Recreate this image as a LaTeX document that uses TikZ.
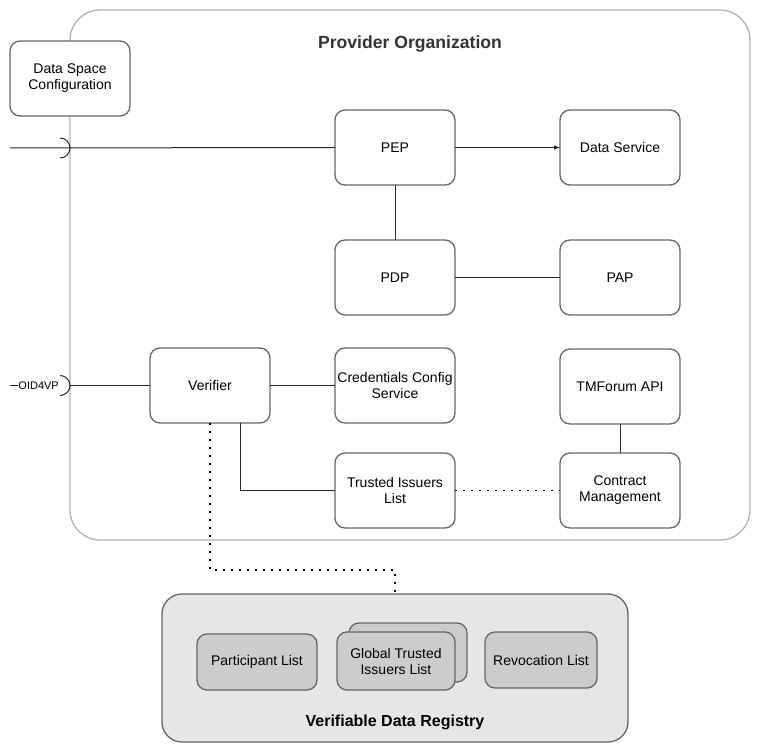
\documentclass[tikz,border=0pt]{standalone}
\usepackage{fontspec}
\setmainfont{Liberation Sans}
\usetikzlibrary{positioning}

\definecolor{orgline}{HTML}{B3B3B3}
\definecolor{boxline}{HTML}{666666}
\definecolor{titletext}{HTML}{333333}
\definecolor{regfill}{HTML}{E6E6E6}
\definecolor{listfill}{HTML}{CCCCCC}

\tikzset{
  box/.style={draw=boxline, line width=1.3pt, rounded corners=10pt, fill=white,
    minimum width=120pt, minimum height=75pt, align=center, outer sep=0pt,
    inner sep=1pt, font=\fontsize{14}{16}\selectfont},
  listbox/.style={box, fill=listfill, minimum width=120pt, minimum height=56pt},
  link/.style={line width=1pt, draw=black!85},
  dotlink/.style={line width=1.6pt, dash pattern=on 1.6pt off 6.4pt},
}

\begin{document}
\begin{tikzpicture}[x=1pt, y=-1pt]
    \useasboundingbox (0,0) rectangle (761,754);

    % provider organization
    \node[draw=orgline, line width=1.3pt, rounded corners=30pt, minimum width=680pt,
          minimum height=530pt, outer sep=0pt] (org) at (410,275) {};
    \node[font=\bfseries\fontsize{17.6}{20}\selectfont, text=titletext] (orgtitle) at (410,44) {Provider Organization};

    \node[box] (dsc) at (70,78.5) {Data Space\\Configuration};

    \node[box] (pep) at (395,147.5) {PEP};
    \node[box] (dataservice) at (620,147.5) {Data Service};
    \node[box] (pdp) at (395,277.5) {PDP};
    \node[box] (pap) at (620,277.5) {PAP};
    \node[box] (verifier) at (210,385.5) {Verifier};
    \node[box] (ccs) at (395,385.5) {Credentials Config\\Service};
    \node[box] (tmf) at (620,386.5) {TMForum API};
    \node[box] (til) at (395,490.5) {Trusted Issuers\\List};
    \node[box] (cm) at (620,490.5) {Contract\\Management};

    % verifiable data registry
    \node[draw=boxline, fill=regfill, line width=1.3pt, rounded corners=20pt,
          minimum width=466pt, minimum height=148pt, outer sep=0pt] (vdr) at (395,668) {};
    \node[font=\bfseries\fontsize{16}{19}\selectfont] (vdrtitle) at (395,722) {Verifiable Data Registry};

    \node[listbox] (plist) at (257,662) {Participant List};
    \node[listbox, minimum width=118pt, minimum height=59pt] (gtilback) at (408,652.5) {};
    \node[listbox, minimum width=118pt, minimum height=58pt] (gtil) at (396,661) {Global Trusted\\Issuers List};
    \node[listbox, minimum width=112pt] (rlist) at (541,660) {Revocation List};

    % interfaces on the left
    \coordinate (in) at (10,148);
    \coordinate (insock) at (60,148);
    \draw[link] (in) -- (pep.west);
    \draw[link] ([yshift=10pt]insock) arc (90:-90:10pt);

    \coordinate (oidin) at (10,385.5);
    \coordinate (oidsock) at (60,385.5);
    \node[font=\fontsize{11}{13}\selectfont, inner sep=0pt, anchor=east] (oid) at ([xshift=-1pt]oidsock) {OID4VP};
    \draw[link] (oidin) -- (oid.west);
    \draw[link] ([yshift=10pt]oidsock) arc (90:-90:10pt);
    \draw[link] ([xshift=10pt]oidsock) -- (verifier.west);

    % connectors
    \draw[link, -latex] (pep) -- (dataservice);
    \draw[link] (pep) -- (pdp);
    \draw[link] (pdp) -- (pap);
    \draw[link] (verifier) -- (ccs);
    \draw[link] ([xshift=30pt]verifier.south) |- (til.west);
    \draw[link] (tmf) -- (cm);
    \draw[dotlink] (til) -- (cm);
    \draw[dotlink] (verifier.south) -- ++(0,147) -| (vdr.north);
\end{tikzpicture}
\end{document}
